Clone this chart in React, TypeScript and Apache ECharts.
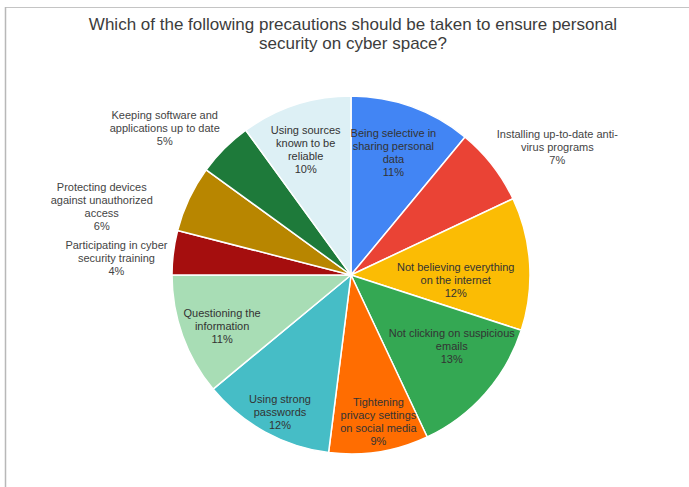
import React, { useEffect, useRef } from "react";
import * as echarts from "echarts";

const titleText = "Which of the following precautions should be taken to ensure personal\nsecurity on cyber space?";

const categories = [
  "Being selective in\nsharing personal\ndata",
  "Installing up-to-date anti-\nvirus programs",
  "Not believing everything\non the internet",
  "Not clicking on suspicious\nemails",
  "Tightening\nprivacy settings\non social media",
  "Using strong\npasswords",
  "Questioning the\ninformation",
  "Participating in cyber\nsecurity training",
  "Protecting devices\nagainst unauthorized\naccess",
  "Keeping software and\napplications up to date",
  "Using sources\nknown to be\nreliable",
];

const values = [11, 7, 12, 13, 9, 12, 11, 4, 6, 5, 10];

const colors = [
  "#4285F4", "#EA4335", "#FBBC04", "#34A853", "#FF6D01", "#46BDC6",
  "#A8DDB5", "#A50E0E", "#B88600", "#1E7A3A", "#DDF0F5",
];

const outsideLabels = [false, true, false, false, false, false, false, true, true, true, false];

// label nudges (style only): [dx, dy]
const labelNudges: number[][] = [
  [-4, 6], [-7, -13], [-32, 14], [-2, -20], [6, 11], [-5, 17],
  [0, 5], [7, 6], [-24, 11], [6, -15], [-3, 5],
];

export default function App() {
  const ref = useRef<HTMLDivElement>(null);
  useEffect(() => {
    if (!ref.current) return;
    const chart = echarts.init(ref.current, undefined, { renderer: "svg" });
    const total = values.reduce((a, b) => a + b, 0);
    const fmt = (p: any) => {
      const pct = Math.round((p.value / total) * 100) + "%";
      const lines = String(p.name).split("\n").concat([pct]);
      return lines.map((l) => "{c|" + l + "}").join("\n");
    };
    const pieData = categories.map((name, i) => ({
      name,
      value: values[i],
      itemStyle: { color: colors[i] },
    }));
    const labelData = categories.map((name, i) => ({
      name,
      value: values[i],
      label: outsideLabels[i]
        ? { position: "outside", color: "#444" }
        : { position: "inside", color: "#333" },
      labelLine: { show: false, length: 8, length2: 0 },
    }));
    chart.setOption({
      animation: false,
      backgroundColor: "#fff",
      title: {
        text: titleText,
        left: 348,
        top: 10,
        textAlign: "center",
        textStyle: {
          fontFamily: "Liberation Sans, Arial",
          fontSize: 17,
          fontWeight: "normal",
          color: "#3c3c3c",
          lineHeight: 19,
        },
      },
      graphic: [
        { type: "line", shape: { x1: 5, y1: 7.5, x2: 689, y2: 7.5 }, style: { stroke: "#c4c4c4", lineWidth: 1 } },
        { type: "line", shape: { x1: 5.5, y1: 7, x2: 5.5, y2: 487 }, style: { stroke: "#b8b8b8", lineWidth: 1.5 } },
      ],
      series: [
        {
          type: "pie",
          center: [351, 275],
          radius: 179,
          startAngle: 90,
          clockwise: true,
          label: { show: false },
          labelLine: { show: false },
          itemStyle: { borderColor: "#fff", borderWidth: 1.5 },
          data: pieData,
          silent: true,
        },
        {
          type: "pie",
          center: [351, 275],
          radius: [89, 179],
          startAngle: 90,
          clockwise: true,
          silent: true,
          itemStyle: { color: "rgba(0,0,0,0)" },
          avoidLabelOverlap: false,
          labelLayout: (params: any) => {
            const n = labelNudges[params.dataIndex] || [0, 0];
            return { hideOverlap: false, moveOverlap: null, dx: n[0], dy: n[1] };
          },
          label: {
            show: true,
            formatter: fmt,
            fontFamily: "Liberation Sans, Arial",
            fontSize: 11,
            lineHeight: 13,
            rich: {
              c: { align: "center", fontFamily: "Liberation Sans, Arial", fontSize: 11, lineHeight: 13 },
            },
          },
          data: labelData,
        },
      ],
    });
    return () => chart.dispose();
  }, []);
  return (
    <div
      ref={ref}
      style={{ position: "fixed", left: 0, top: 0, width: 689, height: 487 }}
    />
  );
}
